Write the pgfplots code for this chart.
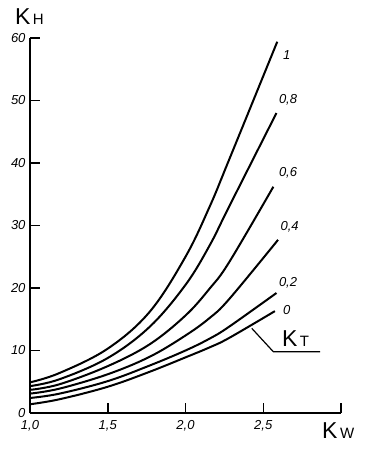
\documentclass[border=0pt]{standalone}
\usepackage{fontspec}
\setmainfont{Liberation Sans}
\usepackage{pgfplots}
\pgfplotsset{compat=1.18}
\pgfplotsset{kcurve/.style={black, solid, line width=2pt, smooth, tension=0.6, mark=none}}
\begin{document}
\begin{tikzpicture}
\path[use as bounding box] (0,0) rectangle (364pt,452pt);
\begin{axis}[
  scale only axis,
  width=311pt, height=375pt,
  at={(30pt,39pt)}, anchor=south west,
  xmin=1, xmax=3, ymin=0, ymax=60,
  axis lines*=left,
  axis line style={line width=1.8pt},
  clip=false,
  xtick={1,1.5,2,2.5,3},
  xticklabels={{1,0},{1,5},{2,0},{2,5},{}},
  ytick={0,10,20,30,40,50,60},
  tick align=inside,
  major tick length=10pt,
  tick style={line width=1.5pt, black},
  /pgf/number format/assume math mode=true,
  ticklabel style={font=\fontsize{13}{13}\selectfont\itshape, text=black},
  xticklabel style={yshift=-4pt},
  yticklabel style={xshift=-1pt},
]
% K_T = 1
\addplot[kcurve] coordinates {(1.0,4.9) (1.19,6.4) (1.5,10.3) (1.77,16.2) (2.0,25.0) (2.155,33.0) (2.28,40.5) (2.59,59.4)};
% K_T = 0.8
\addplot[kcurve] coordinates {(1.0,4.3) (1.19,5.4) (1.5,8.8) (1.77,13.8) (2.0,20.5) (2.155,26.8) (2.28,33.0) (2.585,48.0)};
% K_T = 0.6
\addplot[kcurve] coordinates {(1.0,3.7) (1.19,4.6) (1.5,7.5) (1.77,11.0) (2.0,15.6) (2.155,19.9) (2.28,24.1) (2.565,36.2)};
% K_T = 0.4
\addplot[kcurve] coordinates {(1.0,3.1) (1.19,3.9) (1.5,6.2) (1.77,9.0) (2.0,12.4) (2.155,15.2) (2.28,18.2) (2.595,27.7)};
% K_T = 0.2
\addplot[kcurve] coordinates {(1.0,2.4) (1.19,3.1) (1.5,5.1) (1.77,7.6) (2.0,10.0) (2.155,11.9) (2.28,13.8) (2.585,19.2)};
% K_T = 0
\addplot[kcurve] coordinates {(1.0,1.4) (1.19,2.2) (1.5,4.2) (1.77,6.6) (2.0,8.9) (2.155,10.5) (2.28,12.0) (2.575,16.3)};
% leader line for K_T
\draw[line width=1.2pt] (axis cs:2.426,13.55) -- (axis cs:2.565,9.8) -- (axis cs:2.865,9.8);
% curve labels
\begin{scope}[every node/.style={font=\fontsize{13}{13}\selectfont\itshape, text=black, anchor=west, inner sep=0pt}]
\node at (axis cs:2.627,57.3) {1};
\node at (axis cs:2.60,50.1) {0,8};
\node at (axis cs:2.60,38.4) {0,6};
\node at (axis cs:2.61,29.8) {0,4};
\node at (axis cs:2.60,20.8) {0,2};
\node at (axis cs:2.627,16.5) {0};
\end{scope}
% axis titles
\node[anchor=base west, inner sep=0pt] at (axis cs:0.903,62.1) {\fontsize{23}{23}\selectfont K\fontsize{15}{15}\selectfont\,H};
\node[anchor=base west, inner sep=0pt] at (axis cs:2.878,-4.0) {\fontsize{23}{23}\selectfont K\fontsize{15}{15}\selectfont\,W};
\node[anchor=base west, inner sep=0pt] at (axis cs:2.62,10.6) {\fontsize{23}{23}\selectfont K\fontsize{15}{15}\selectfont\,T};
\end{axis}
\end{tikzpicture}
\end{document}
